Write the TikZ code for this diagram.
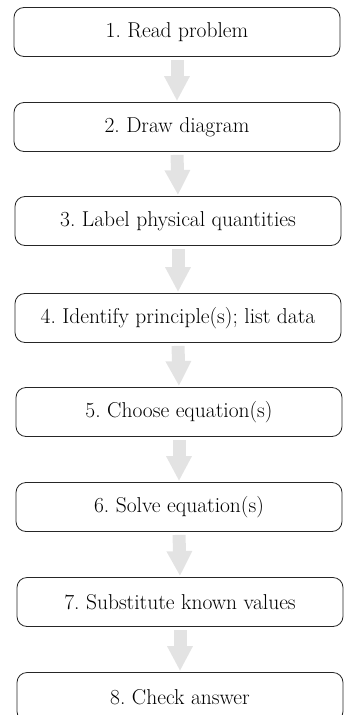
\documentclass[tikz,border=0pt]{standalone}
\usetikzlibrary{arrows.meta}
\begin{document}
\frenchspacing
\begin{tikzpicture}[x=1pt,y=1pt,
  stepbox/.style={draw=black!85, line width=0.8pt, rounded corners=10pt,
    minimum width=326pt, minimum height=49pt, inner sep=0pt,
    font=\fontsize{21.5}{25}\selectfont\frenchspacing},
  flowarrow/.style={line width=13pt, draw=black!11,
    -{Triangle[width=24pt,length=25pt,fill=black!11]}, shorten <=3pt, shorten >=1pt}]
\useasboundingbox (0,0) rectangle (344,-715);
\node[stepbox] (b1) at (177,-32) {1. Read problem};
\node[stepbox] (b2) at (177,-127) {2. Draw diagram};
\node[stepbox] (b3) at (178,-221) {3. Label physical quantities};
\node[stepbox] (b4) at (178,-318) {4. Identify principle(s); list data};
\node[stepbox] (b5) at (179,-412) {5. Choose equation(s)};
\node[stepbox] (b6) at (179,-507) {6. Solve equation(s)};
\node[stepbox] (b7) at (180,-602) {7. Substitute known values};
\node[stepbox] (b8) at (180,-697) {8. Check answer};
\foreach \a/\b in {b1/b2,b2/b3,b3/b4,b4/b5,b5/b6,b6/b7,b7/b8}
  \draw[flowarrow] (\a.south) -- (\b.north);
\end{tikzpicture}
\end{document}
